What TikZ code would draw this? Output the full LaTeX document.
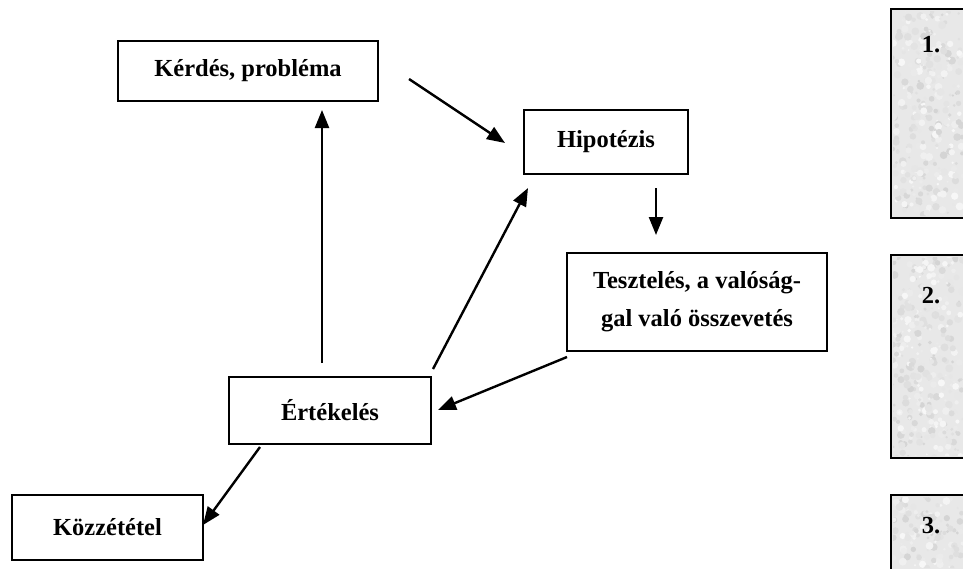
\documentclass[tikz,border=0pt]{standalone}
\usepackage{fontspec}
\setmainfont{Liberation Serif}
\usetikzlibrary{arrows.meta}
\begin{document}
\begin{tikzpicture}[x=1pt,y=-1pt,
  box/.style={draw=black, line width=1.8pt, rectangle, inner sep=0pt, font=\fontsize{24.5}{38}\selectfont\bfseries, align=center},
  arr/.style={line width=2.4pt, -{Triangle[length=18pt,width=14pt]}},
  tex/.style={draw=black, line width=2.4pt, fill=black!9},
  num/.style={font=\fontsize{24.5}{28}\selectfont\bfseries, inner sep=0pt}]
\useasboundingbox (0,0) rectangle (963,568);
\fill[white] (0,0) rectangle (963,568);

% textured panels on the right
\draw[tex] (891,9) rectangle (1000,218);
\draw[tex] (891,255) rectangle (1000,458);
\draw[tex] (891,495) rectangle (1000,600);
\begin{scope}
\clip (893,11) rectangle (963,216) (893,257) rectangle (963,456) (893,497) rectangle (963,568);
\pgfmathsetseed{7}
\foreach \i in {1,...,900}{
  \pgfmathsetmacro{\px}{892+71*rnd}
  \pgfmathsetmacro{\py}{10+558*rnd}
  \pgfmathsetmacro{\pr}{1+3*rnd}
  \pgfmathsetmacro{\pc}{3+14*rnd}
  \fill[black!\pc] (\px,\py) circle (\pr);
}
\end{scope}
\node[num] (n1) at (931,45) {1.};
\node[num] (n2) at (931,296) {2.};
\node[num] (n3) at (931,526) {3.};

% boxes
\node[box, minimum width=260pt, minimum height=60pt] (kerdes) at (248,71) {Kérdés, probléma};
\node[box, minimum width=164pt, minimum height=64pt] (hipo) at (606,142) {Hipotézis};
\node[box, minimum width=260pt, minimum height=98pt] (teszt) at (697,302) {Tesztelés, a valóság-\\gal való összevetés};
\node[box, minimum width=202pt, minimum height=67pt] (ert) at (330,410.5) {Értékelés};
\node[box, minimum width=191pt, minimum height=65pt] (kozz) at (107.5,527.5) {Közzététel};

% arrow end points
\coordinate (a1s) at (409,79);  \coordinate (a1e) at (505,143);
\coordinate (a2s) at (433,369); \coordinate (a2e) at (528,188);
\coordinate (a3s) at (656,188); \coordinate (a3e) at (656,235);
\coordinate (a4s) at (322,363); \coordinate (a4e) at (322,110);
\coordinate (a5s) at (567,357); \coordinate (a5e) at (438,410);
\coordinate (a6s) at (260,447); \coordinate (a6e) at (203,525);

\draw[arr] (a1s) -- (a1e);
\draw[arr] (a2s) -- (a2e);
\draw[arr] (a3s) -- (a3e);
\draw[arr] (a4s) -- (a4e);
\draw[arr] (a5s) -- (a5e);
\draw[arr] (a6s) -- (a6e);
\end{tikzpicture}
\end{document}
